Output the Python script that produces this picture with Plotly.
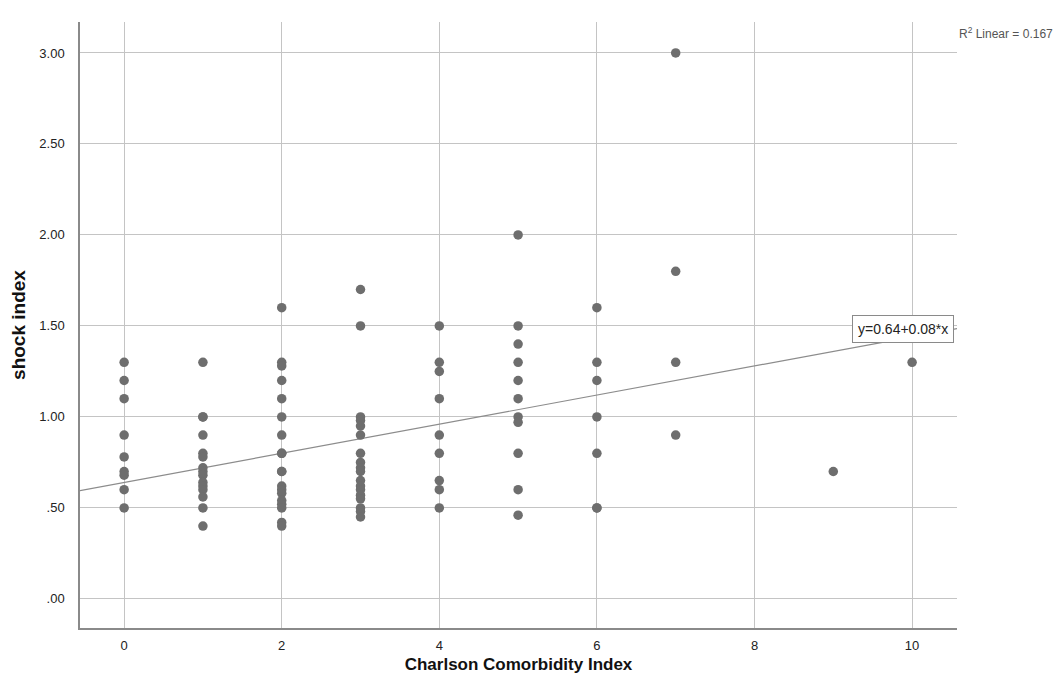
import plotly.graph_objects as go

# Shock index values grouped by Charlson Comorbidity Index
cci_levels = [0, 1, 2, 3, 4, 5, 6, 7, 9, 10]
shock_cci0 = [1.30, 1.20, 1.10, 0.90, 0.78, 0.70, 0.68, 0.60, 0.50]
shock_cci1 = [1.30, 1.00, 1.00, 0.90, 0.80, 0.78, 0.72, 0.70, 0.68, 0.64, 0.62, 0.60, 0.56, 0.50, 0.40]
shock_cci2 = [1.60, 1.30, 1.28, 1.20, 1.10, 1.00, 0.90, 0.80, 0.80, 0.70, 0.70, 0.62, 0.60, 0.58,
              0.54, 0.52, 0.50, 0.42, 0.40]
shock_cci3 = [1.70, 1.50, 1.00, 0.98, 0.95, 0.90, 0.80, 0.75, 0.72, 0.70, 0.65, 0.62, 0.60, 0.57,
              0.55, 0.50, 0.48, 0.45]
shock_cci4 = [1.50, 1.30, 1.25, 1.10, 0.90, 0.80, 0.65, 0.60, 0.50]
shock_cci5 = [2.00, 1.50, 1.40, 1.30, 1.20, 1.10, 1.00, 0.97, 0.80, 0.60, 0.46]
shock_cci6 = [1.60, 1.30, 1.20, 1.00, 0.80, 0.50, 0.50]
shock_cci7 = [3.00, 1.80, 1.30, 0.90]
shock_cci9 = [0.70]
shock_cci10 = [1.30]
shock_groups = [shock_cci0, shock_cci1, shock_cci2, shock_cci3, shock_cci4,
                shock_cci5, shock_cci6, shock_cci7, shock_cci9, shock_cci10]

# Linear fit reported on the chart
fit_intercept = 0.64
fit_slope = 0.08
r2_linear = 0.167

# Axis ticks
x_tickvals = [0, 2, 4, 6, 8, 10]
y_tickvals = [0.0, 0.5, 1.0, 1.5, 2.0, 2.5, 3.0]
y_ticktext = [".00", ".50", "1.00", "1.50", "2.00", "2.50", "3.00"]

x_range = [-0.56, 10.57]
y_range = [-0.16, 3.17]

xs, ys = [], []
for lvl, grp in zip(cci_levels, shock_groups):
    xs += [lvl] * len(grp)
    ys += grp

fig = go.Figure()
fig.add_trace(go.Scatter(
    x=x_range,
    y=[fit_intercept + fit_slope * v for v in x_range],
    mode="lines",
    line=dict(color="#8c8c8c", width=1.2),
    hoverinfo="skip",
    showlegend=False,
))
fig.add_trace(go.Scatter(
    x=xs, y=ys, mode="markers",
    marker=dict(color="#6e6e6e", size=9.5, line=dict(width=0)),
    showlegend=False,
))

fig.add_annotation(
    x=9.89, y=1.485, xref="x", yref="y",
    text=f"y={fit_intercept:.2f}+{fit_slope:.2f}*x",
    showarrow=False, xanchor="center", yanchor="middle",
    bgcolor="white", bordercolor="#8a8a8a", borderwidth=1, borderpad=5,
    font=dict(family="Liberation Sans Narrow, Liberation Sans, Arial", size=14, color="#222"),
)
fig.add_annotation(
    x=1.0, y=1.0, xref="paper", yref="paper",
    text=f"R<sup>2</sup> Linear = {r2_linear:.3f}",
    showarrow=False, xanchor="left", yanchor="middle", xshift=0, yshift=-11,
    font=dict(family="Liberation Sans, Arial", size=12, color="#555"),
)

fig.update_layout(
    width=1056, height=690,
    margin=dict(l=72, r=107, t=14, b=70),
    paper_bgcolor="white", plot_bgcolor="white",
    font=dict(family="Liberation Sans, Arial", color="#222"),
    showlegend=False,
)
fig.update_xaxes(
    range=x_range, tickvals=x_tickvals, automargin=False,
    showgrid=True, gridcolor="#c4c4c4", gridwidth=1,
    zeroline=False, showline=True, linecolor="#8a8a8a", linewidth=1.5,
    ticks="outside", ticklen=5, tickcolor="rgba(0,0,0,0)",
    tickfont=dict(family="Liberation Sans Narrow, Liberation Sans, Arial", size=13, color="#222"),
    title=dict(text="<b>Charlson Comorbidity Index</b>", standoff=6,
               font=dict(family="Liberation Sans Narrow, Liberation Sans, Arial", size=17, color="#111")),
)
fig.update_yaxes(
    range=y_range, tickvals=y_tickvals, ticktext=y_ticktext, automargin=False,
    showgrid=True, gridcolor="#c4c4c4", gridwidth=1,
    zeroline=False, showline=True, linecolor="#8a8a8a", linewidth=1.5,
    ticks="outside", ticklen=11, tickcolor="rgba(0,0,0,0)",
    tickfont=dict(family="Liberation Sans, Arial", size=13, color="#222"),
    title=dict(text="<b>shock index</b>", standoff=14,
               font=dict(family="Liberation Sans, Arial", size=19, color="#111")),
)

fig.write_html("out.html")
